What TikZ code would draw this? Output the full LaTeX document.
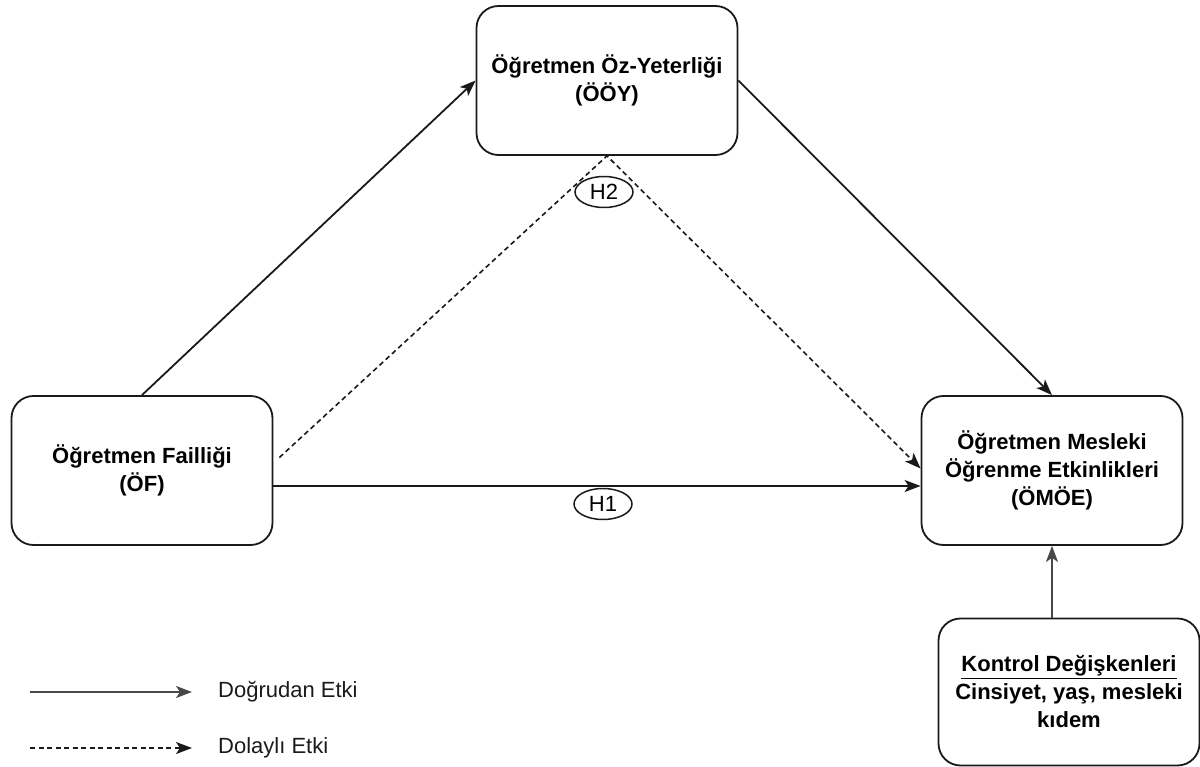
\documentclass[tikz,border=0pt]{standalone}
\usepackage{fontspec}
\setmainfont{Liberation Sans}
\usetikzlibrary{arrows.meta,calc,shapes.geometric}
\definecolor{ink}{HTML}{1A1A1A}
\begin{document}
\begin{tikzpicture}[x=1pt,y=-1pt,
  box/.style={draw=ink,line width=1.8pt,rounded corners=22pt,minimum width=261pt,minimum height=149pt,
    align=center,font=\fontsize{22}{28}\selectfont\bfseries,inner sep=0pt,fill=white},
  hyp/.style={draw=ink,line width=1.5pt,ellipse,minimum width=58pt,minimum height=31pt,inner sep=0pt,
    font=\fontsize{22}{26}\selectfont},
  conn/.style={draw=ink,line width=1.8pt,-{Stealth[length=16pt,width=12pt,inset=4pt]}},
  dconn/.style={draw=ink,line width=1.6pt,dash pattern=on 5pt off 3.5pt,-{Stealth[length=16pt,width=12pt,inset=4pt]}},
  legtext/.style={anchor=west,font=\fontsize{22}{26}\selectfont,text=ink,inner sep=0pt}
]
\useasboundingbox (0,0) rectangle (1200,767);

\node[box] (ooy) at (607,80.5) {Öğretmen Öz-Yeterliği\\(ÖÖY)};
\node[box] (of) at (142,470.5) {Öğretmen Failliği\\(ÖF)};
\node[box] (omoe) at (1052,470.5) {Öğretmen Mesleki\\Öğrenme Etkinlikleri\\(ÖMÖE)};
\node[box,minimum height=147pt] (kon) at (1069,692) {\underline{Kontrol Değişkenleri}\\Cinsiyet, yaş, mesleki\\kıdem};

% direct paths
\draw[conn] (of.north) -- (ooy.west);
\draw[conn] (ooy.east) -- (omoe.north);
\coordinate (h1s) at ($(of.east)+(0,15.5)$);
\coordinate (h1e) at ($(omoe.west)+(0,15.5)$);
\draw[conn] (h1s) -- (h1e);
\coordinate (ks) at (kon.north -| omoe.south);
\draw[conn,draw=ink!80] (ks) -- (omoe.south);

% indirect path
\coordinate (ds) at ($(of.east)+(6,-13)$);
\coordinate (de) at ($(omoe.west)+(0,-2)$);
\draw[dconn] (ds) -- (ooy.south) -- (de);

% hypothesis labels
\node[hyp] (h2) at (604,192) {H2};
\node[hyp] (h1) at (603,504) {H1};

% legend
\coordinate (l1s) at (30,692);
\coordinate (l1e) at (192,692);
\coordinate (l2s) at (30,748);
\coordinate (l2e) at (192,748);
\draw[conn,draw=ink!80] (l1s) -- (l1e);
\draw[dconn] (l2s) -- (l2e);
\node[legtext] (t1) at (218,692) {Doğrudan Etki};
\node[legtext] (t2) at (218,748) {Dolaylı Etki};
\end{tikzpicture}
\end{document}
